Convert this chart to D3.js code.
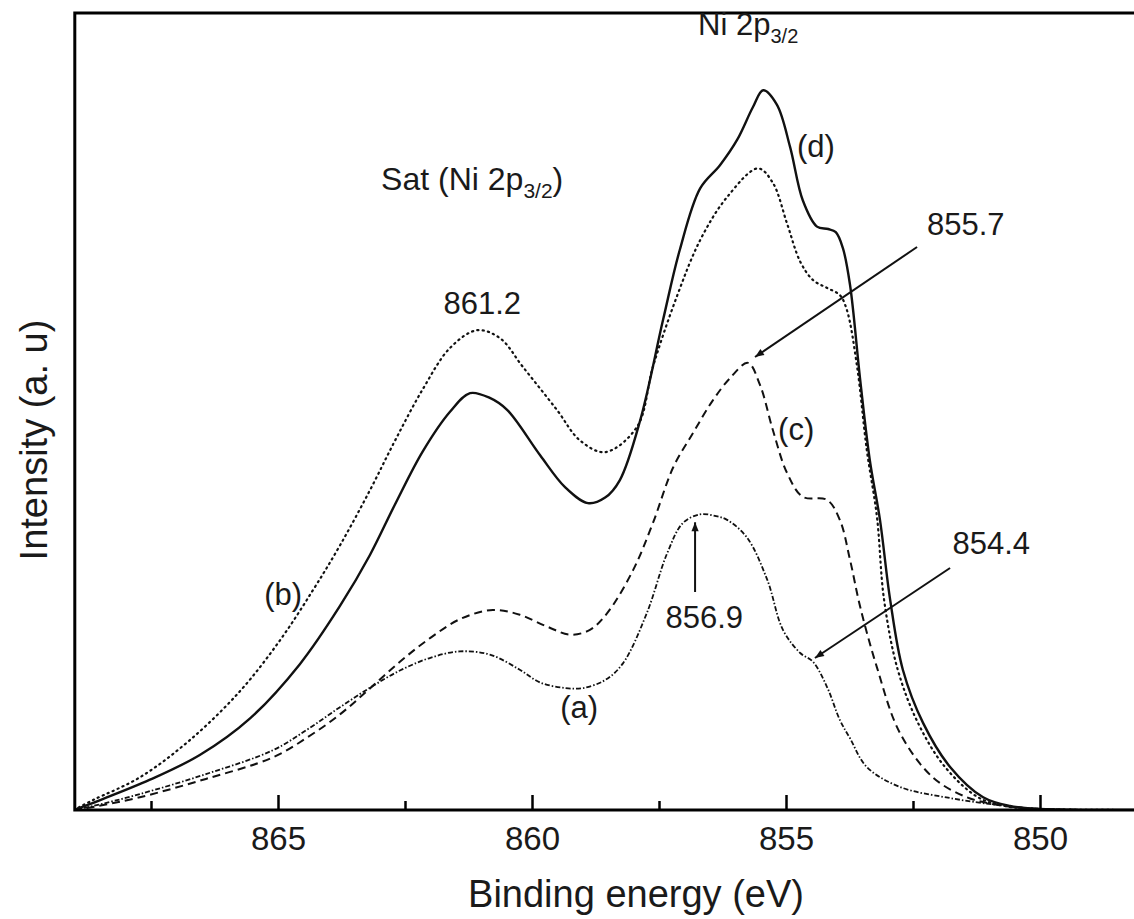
<!DOCTYPE html>
<html>
<head>
<meta charset="utf-8">
<script src="https://cdn.jsdelivr.net/npm/d3@7"></script>
<style>
  html, body { margin: 0; padding: 0; background: #fff; }
  svg { display: block; }
  text { font-family: "Liberation Sans", Arial, sans-serif; fill: #1a1a1a; }
</style>
</head>
<body>
<svg id="chart" width="1134" height="919"></svg>
<script>
// ---- Data (binding energy eV, intensity a.u.) ----
const majorTicks = [865, 860, 855, 850];
const minorTicks = [867.5, 862.5, 857.5, 852.5];

// (a) dash-dot
const seriesA = [[869.02,0],[868.64,0.5],[867.72,2.0],[866.42,4.5],[865.10,7.5],[864.40,10.2],[863.78,12.9],[863.20,15.3],[862.60,17.5],[862.00,19.1],[861.42,19.9],[860.83,19.5],[860.24,17.6],[859.84,16.0],[859.35,15.3],[859.00,15.3],[858.56,16.3],[858.21,18.4],[857.74,24.7],[857.34,32.2],[857.03,36.0],[856.69,37.1],[856.40,36.9],[856.16,36.4],[855.77,34.2],[855.37,28.9],[855.06,22.6],[854.72,19.7],[854.47,18.6],[854.19,15.4],[853.94,11.3],[853.74,9.0],[853.41,5.4],[852.76,2.9],[851.77,1.5],[850.79,0.6],[850.00,0.13],[848.0,0]];
// (b) dotted
const seriesB = [[869.02,0],[868.64,1.25],[867.72,4.1],[866.73,8.8],[865.75,14.9],[864.96,21.3],[864.31,27.6],[863.78,33.2],[863.20,40.0],[862.70,46.3],[862.15,52.8],[861.61,58.0],[861.08,60.2],[860.63,59.2],[860.18,55.6],[859.51,50.2],[859.06,46.4],[858.56,44.9],[857.93,48.1],[857.62,55.6],[857.15,64.4],[856.69,71.5],[856.16,76.9],[855.55,80.5],[855.26,78.7],[854.98,73.6],[854.72,68.8],[854.47,66.5],[854.19,65.5],[853.94,64.6],[853.80,62.7],[853.60,55.6],[853.41,45.2],[853.21,36.8],[853.07,26.4],[852.80,17.6],[852.40,10.9],[851.87,5.4],[851.22,1.6],[850.69,0.5],[850.00,0.13],[848.0,0]];
// (c) dashed
const seriesC = [[869.02,0],[868.64,0.38],[867.72,1.6],[866.42,3.9],[865.10,6.6],[864.40,9.2],[863.78,12.0],[863.20,15.2],[862.60,18.6],[862.00,21.6],[861.40,24.0],[860.77,25.1],[860.24,24.5],[859.70,23.0],[859.25,22.0],[858.86,22.6],[858.52,24.7],[858.01,30.1],[857.62,36.0],[857.22,43.0],[856.83,47.3],[856.44,51.4],[856.10,54.2],[855.75,56.1],[855.51,53.3],[855.26,47.7],[854.98,42.3],[854.67,39.3],[854.19,38.9],[853.94,36.4],[853.74,31.4],[853.54,25.5],[853.21,17.9],[852.76,9.7],[852.11,4.1],[851.44,1.6],[850.79,0.6],[850.00,0.13],[848.0,0]];
// (d) solid
const seriesD = [[869.02,0],[868.50,1.25],[867.52,3.8],[866.54,6.9],[865.55,11.5],[864.57,18.3],[863.78,25.6],[863.19,32.0],[862.70,38.3],[862.15,45.0],[861.61,50.0],[861.22,52.3],[860.83,51.7],[860.49,50.2],[859.84,44.5],[859.35,40.5],[858.90,38.5],[858.56,39.2],[858.27,41.4],[857.87,48.9],[857.42,61.5],[857.09,70.3],[856.69,78.0],[856.30,80.9],[855.96,84.1],[855.65,88.2],[855.45,90.3],[855.18,88.5],[854.92,83.2],[854.67,76.5],[854.39,73.2],[854.17,72.9],[854.02,72.5],[853.88,70.5],[853.74,65.9],[853.54,54.0],[853.35,43.9],[853.15,36.4],[852.95,26.4],[852.70,17.6],[852.30,10.9],[851.77,5.4],[851.12,1.6],[850.59,0.5],[850.00,0.13],[848.0,0]];

// annotations in data coordinates
const textLabels = [
  { text: "861.2", E: 860.98, I: 63.5 },
  { text: "(d)", E: 854.41, I: 83.2 },
  { text: "(c)", E: 854.80, I: 47.7 },
  { text: "(b)", E: 864.90, I: 27.1 },
  { text: "(a)", E: 859.07, I: 12.8 },
  { text: "855.7", E: 851.46, I: 73.5 },
  { text: "854.4", E: 850.96, I: 33.5 },
  { text: "856.9", E: 856.61, I: 24.2 }
];
const arrows = [
  { from: [852.42, 70.64], to: [855.61, 56.84] },
  { from: [851.77, 30.36], to: [854.43, 19.07] },
  { from: [856.79, 27.35], to: [856.79, 36.1] }
];

(function () {
  const svg = d3.select("#chart");
  const pL = 74.8, pR = 1141.6, pT = 13, pB = 810;
  const x = d3.scaleLinear().domain([869, 848]).range([pL, pR]);
  const y = d3.scaleLinear().domain([0, 100]).range([pB, pT]);

  const line = d3.line().x(d => x(d[0])).y(d => y(d[1])).curve(d3.curveCatmullRom.alpha(0.5));

  const defs = svg.append("defs");
  defs.append("clipPath").attr("id", "plotclip").append("rect")
    .attr("x", pL).attr("y", pT).attr("width", pR - pL).attr("height", pB - pT);
  defs.append("marker").attr("id", "ah").attr("viewBox", "0 0 10 10").attr("refX", 10).attr("refY", 5)
    .attr("markerWidth", 10).attr("markerHeight", 9).attr("markerUnits", "userSpaceOnUse").attr("orient", "auto")
    .append("path").attr("d", "M0,1 L10,5 L0,9 Z").attr("fill", "#111");

  const g = svg.append("g");
  const curves = g.append("g").attr("clip-path", "url(#plotclip)");
  const styles = [
    { data: seriesA, dash: "5,2,1.5,2", w: 1.8, cap: "butt" },
    { data: seriesB, dash: "1.2,4.2", w: 2.2, cap: "round" },
    { data: seriesC, dash: "8,5", w: 2, cap: "butt" },
    { data: seriesD, dash: null, w: 2.4, cap: "butt" }
  ];
  styles.forEach(s => {
    curves.append("path").attr("d", line(s.data)).attr("fill", "none")
      .attr("stroke", "#111").attr("stroke-width", s.w)
      .attr("stroke-dasharray", s.dash).attr("stroke-linecap", s.cap);
  });

  // frame
  g.append("rect").attr("x", pL).attr("y", pT).attr("width", pR - pL).attr("height", pB - pT)
    .attr("fill", "none").attr("stroke", "#000").attr("stroke-width", 3);

  // ticks (inward)
  const xAxis = d3.axisBottom(x).tickValues(majorTicks).tickSize(-15).tickPadding(17).tickFormat(d3.format("d"));
  const ax = g.append("g").attr("transform", `translate(0,${pB})`).call(xAxis);
  ax.select(".domain").remove();
  ax.selectAll(".tick line").attr("stroke", "#000").attr("stroke-width", 2.5);
  ax.selectAll(".tick text").attr("font-size", 33).attr("fill", "#1a1a1a")
    .attr("font-family", "Liberation Sans, Arial, sans-serif");
  const minorAxis = d3.axisBottom(x).tickValues(minorTicks).tickSize(-9).tickFormat("");
  const mx = g.append("g").attr("transform", `translate(0,${pB})`).call(minorAxis);
  mx.select(".domain").remove();
  mx.selectAll(".tick line").attr("stroke", "#000").attr("stroke-width", 2.5);

  // axis titles
  svg.append("text").attr("x", 636).attr("y", 907).attr("text-anchor", "middle")
    .attr("font-size", 38).text("Binding energy (eV)");
  svg.append("text").attr("transform", "translate(47,440) rotate(-90)").attr("text-anchor", "middle")
    .attr("font-size", 38).text("Intensity (a. u)");

  // labels
  textLabels.forEach(t => {
    svg.append("text").attr("x", x(t.E)).attr("y", y(t.I)).attr("text-anchor", "middle")
      .attr("dominant-baseline", "central").attr("font-size", 31).text(t.text);
  });

  const ni = svg.append("text").attr("x", x(856.73)).attr("y", y(97.2)).attr("font-size", 31);
  ni.append("tspan").text("Ni 2p");
  ni.append("tspan").attr("font-size", 20).attr("dy", 8).text("3/2");
  const sat = svg.append("text").attr("x", x(862.97)).attr("y", y(77.8)).attr("font-size", 32);
  sat.append("tspan").text("Sat (Ni 2p");
  sat.append("tspan").attr("font-size", 21).attr("dy", 8).text("3/2");
  sat.append("tspan").attr("dy", -8).text(")");

  arrows.forEach(a => {
    svg.append("line").attr("x1", x(a.from[0])).attr("y1", y(a.from[1]))
      .attr("x2", x(a.to[0])).attr("y2", y(a.to[1]))
      .attr("stroke", "#111").attr("stroke-width", 2).attr("marker-end", "url(#ah)");
  });
})();
</script>
</body>
</html>
